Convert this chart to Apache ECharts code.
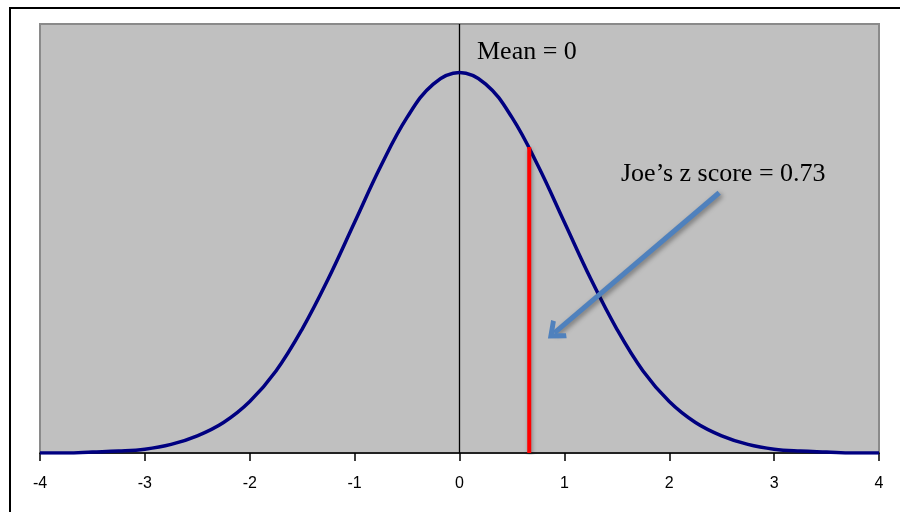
<!DOCTYPE html>
<html>
<head>
<meta charset="utf-8">
<script src="https://cdn.jsdelivr.net/npm/echarts@6/dist/echarts.min.js"></script>
<style>
  html, body { margin: 0; padding: 0; background: #fff; }
  #main { width: 900px; height: 512px; }
</style>
</head>
<body>
<div id="main"></div>
<script>
// z values and curve heights
let zValues = [-4, -3.75, -3.5, -3.25, -3, -2.75, -2.5, -2.25, -2, -1.75, -1.5, -1.25, -1, -0.75, -0.5, -0.25,
  0, 0.25, 0.5, 0.75, 1, 1.25, 1.5, 1.75, 2, 2.25, 2.5, 2.75, 3, 3.25, 3.5, 3.75, 4]
let density = [0.000, 0.000, 0.001, 0.002, 0.004, 0.009, 0.018, 0.032, 0.054, 0.086, 0.130, 0.183, 0.242, 0.301, 0.352, 0.387,
  0.399, 0.387, 0.352, 0.301, 0.242, 0.183, 0.130, 0.086, 0.054, 0.032, 0.018, 0.009, 0.004, 0.002, 0.001, 0.000, 0.000]
let xTicks = [-4, -3, -2, -1, 0, 1, 2, 3, 4]
// Joe's marker line (drawn where the picture puts it) and the arrow
let joeZ = 0.665
let joeHeight = 0.321
let arrowFrom = [2.476, 0.273]
let arrowTo = [0.905, 0.126]

let curve = zValues.map((z, i) => [z, density[i]])

let myChart = echarts.init(document.getElementById('main'))

var option = {
  animation: false,
  grid: {
    left: 40, right: 21, top: 24, bottom: 59,
    show: true,
    backgroundColor: '#c0c0c0',
    borderColor: '#8a8a8a',
    borderWidth: 2
  },
  xAxis: {
    type: 'value',
    min: xTicks[0],
    max: xTicks[xTicks.length - 1],
    interval: 1,
    splitLine: { show: false },
    axisLine: { onZero: false, lineStyle: { color: '#000', width: 1.5 } },
    axisTick: { show: true, length: 8, lineStyle: { color: '#000', width: 1.5 } },
    axisLabel: {
      margin: 23,
      color: '#000',
      fontFamily: 'Liberation Sans',
      fontSize: 16
    }
  },
  yAxis: {
    type: 'value',
    min: 0,
    max: 0.45,
    show: false
  },
  series: [
    {
      // mean line
      type: 'line',
      data: [[0, 0], [0, 0.45]],
      symbol: 'none',
      lineStyle: { color: '#000', width: 1.3 },
      z: 2
    },
    {
      name: 'curve',
      type: 'line',
      data: curve,
      smooth: 0.4,
      symbol: 'none',
      lineStyle: { color: '#000080', width: 3.5 },
      z: 3
    },
    {
      // Joe's z score
      type: 'line',
      data: [[joeZ, 0], [joeZ, joeHeight]],
      symbol: 'none',
      lineStyle: { color: '#ff0000', width: 4, shadowBlur: 4, shadowColor: 'rgba(0,0,0,0.35)', shadowOffsetX: 1, shadowOffsetY: 2 },
      z: 4,
      markLine: {
        silent: true,
        symbol: ['none', 'path://M0,11 L10,0 L20,11 L16.5,13 L10,6 L3.5,13 Z'],
        symbolSize: [24, 17],
        label: { show: false },
        lineStyle: {
          color: '#4f81bd', width: 5, type: 'solid',
          shadowBlur: 5, shadowColor: 'rgba(0,0,0,0.4)', shadowOffsetX: 2, shadowOffsetY: 2
        },
        data: [[{ coord: arrowFrom }, { coord: arrowTo }]]
      }
    }
  ],
  graphic: [
    {
      type: 'rect',
      shape: { x: 10, y: 8, width: 900, height: 520 },
      style: { fill: 'none', stroke: '#000', lineWidth: 2 },
      silent: true
    },
    {
      type: 'text',
      left: 477, top: 39,
      style: { text: 'Mean = 0', fill: '#000', font: '26px "Liberation Serif"' },
      z: 10
    },
    {
      type: 'text',
      left: 621, top: 161,
      style: { text: 'Joe\u2019s z score = 0.73', fill: '#000', font: '26px "Liberation Serif"' },
      z: 10
    }
  ]
}

myChart.setOption(option)
</script>
</body>
</html>
